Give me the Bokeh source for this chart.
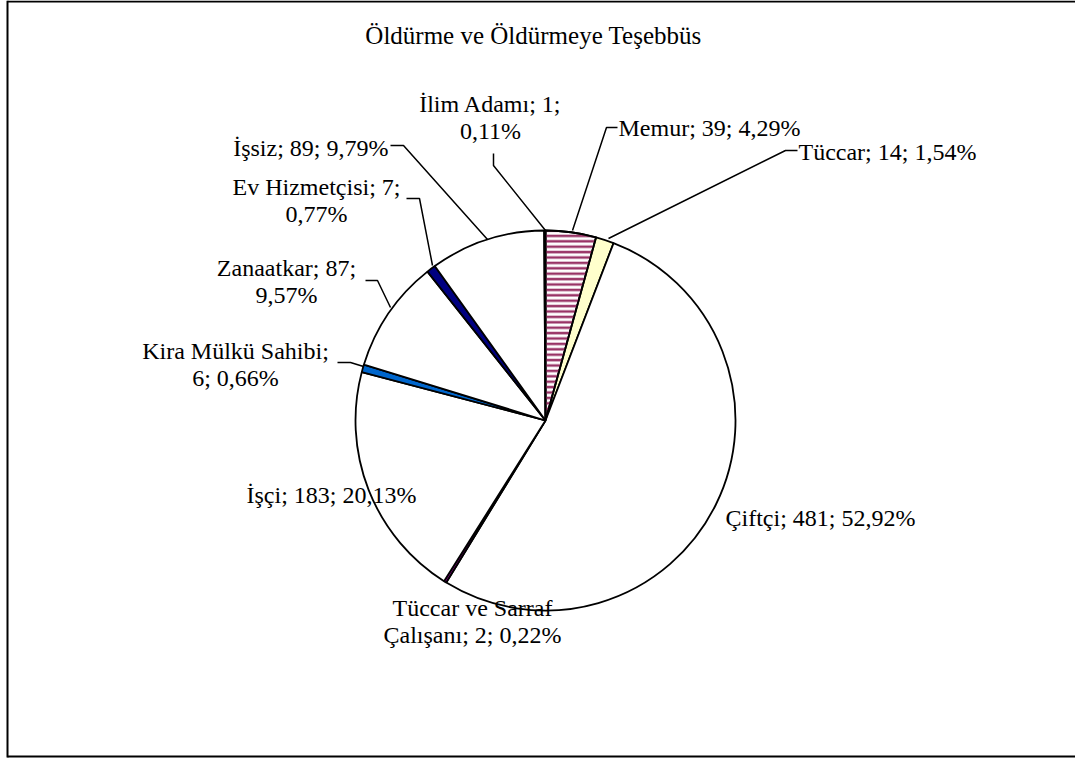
import numpy as np
from bokeh.plotting import figure
from bokeh.models import Range1d, ColumnDataSource
from bokeh.core.properties import value
from bokeh.embed import file_html
from bokeh.resources import INLINE

# ---------------- data ----------------
title_text = "Öldürme ve Öldürmeye Teşebbüs"
categories = ["Memur", "Tüccar", "Çiftçi", "Tüccar ve Sarraf Çalışanı", "İşçi",
              "Kira Mülkü Sahibi", "Zanaatkar", "Ev Hizmetçisi", "İşsiz", "İlim Adamı"]
counts = [39, 14, 481, 2, 183, 6, 87, 7, 89, 1]
slice_colors = ["#ffffff", "#ffffcc", "#ffffff", "#800080", "#ffffff",
                "#0066cc", "#ffffff", "#000080", "#ffffff", "#ffffff"]
hatched_categories = ["Memur"]

# ---------------- layout (screen pixel coordinates) ----------------
W, H = 1075, 758
FONT = "Liberation Serif"
FS = 24
LINE_H = 27
CX, CY, R = 545, 420, 190


def Y(ys):
    return H - ys


label_layout = {
    "Memur": dict(x=618, y=127, align="left", words=None,
                  leader=[(617, 127), (606, 127), (572, 230)]),
    "Tüccar": dict(x=798, y=151, align="left", words=None,
                   leader=[(797, 150), (785, 150), (608, 238)]),
    "Çiftçi": dict(x=725, y=517, align="left", words=None, leader=None),
    "Tüccar ve Sarraf Çalışanı": dict(x=472, y=607, align="center", words=3, leader=None),
    "İşçi": dict(x=331, y=494, align="center", words=None, leader=None),
    "Kira Mülkü Sahibi": dict(x=235, y=350, align="center", words=3,
                              leader=[(337, 362), (350, 362), (363, 366)]),
    "Zanaatkar": dict(x=286, y=267, align="center", words=2,
                      leader=[(365, 280), (377, 280), (390, 307)]),
    "Ev Hizmetçisi": dict(x=316, y=186, align="center", words=3,
                          leader=[(406, 198), (419, 198), (432, 265)]),
    "İşsiz": dict(x=388, y=147, align="right", words=None,
                  leader=[(390, 145), (403, 145), (487, 239)]),
    "İlim Adamı": dict(x=490, y=103, align="center", words=3,
                       leader=[(493, 153), (493, 165), (545, 230)]),
}

# ---------------- derived ----------------
total = float(sum(counts))
fractions = np.array(counts) / total
cum_end = np.cumsum(fractions)
cum_start = cum_end - fractions
start_angle = np.pi / 2 - 2 * np.pi * cum_start
end_angle = np.pi / 2 - 2 * np.pi * cum_end
pct_text = [("%.2f" % (f * 100)).replace(".", ",") + "%" for f in fractions]

src = ColumnDataSource(dict(cat=categories, cnt=counts, color=slice_colors,
                            start=start_angle, end=end_angle))
idx_h = [categories.index(c) for c in hatched_categories]
src_h = ColumnDataSource(dict(start=start_angle[idx_h], end=end_angle[idx_h]))

p = figure(width=W, height=H, x_range=Range1d(0, W), y_range=Range1d(0, H),
           x_axis_type=None, y_axis_type=None, output_backend="svg",
           toolbar_location=None, min_border=0, outline_line_color=None)
p.grid.visible = False
p.background_fill_color = "white"
p.border_fill_color = "white"

# frame border (left, top, bottom)
p.line(x=[7, 7], y=[Y(757), Y(0)], line_color="black", line_width=2)
p.line(x=[7, W], y=[Y(1), Y(1)], line_color="black", line_width=2)
p.line(x=[7, W], y=[Y(756), Y(756)], line_color="black", line_width=2)

# pie
p.wedge(x=CX, y=Y(CY), radius=R, start_angle="start", end_angle="end",
        direction="clock", fill_color="color", line_color="black",
        line_width=1.8, source=src)
p.wedge(x=CX, y=Y(CY), radius=R, start_angle="start", end_angle="end",
        direction="clock", fill_color="white", fill_alpha=0.0,
        hatch_pattern="horizontal_line", hatch_color="#993366",
        hatch_weight=2.5, hatch_scale=5.4, line_color="black",
        line_width=1.8, source=src_h)

# title
p.text(x=[533], y=[Y(35)], text=[title_text], text_font=value(FONT),
       text_font_size="25px", text_align="center", text_baseline="middle",
       text_color="black")

# labels
lines = {"left": dict(x=[], y=[], t=[]), "center": dict(x=[], y=[], t=[]),
         "right": dict(x=[], y=[], t=[])}
lx, ly = [], []
for i, cat in enumerate(categories):
    lay = label_layout[cat]
    full = f"{cat}; {counts[i]}; {pct_text[i]}"
    words = full.split(" ")
    if lay["words"]:
        parts = [" ".join(words[:lay["words"]]), " ".join(words[lay["words"]:])]
    else:
        parts = [full]
    for k, part in enumerate(parts):
        d = lines[lay["align"]]
        d["x"].append(lay["x"])
        d["y"].append(Y(lay["y"] + k * LINE_H))
        d["t"].append(part)
    if lay["leader"]:
        lx.append([pt[0] for pt in lay["leader"]])
        ly.append([Y(pt[1]) for pt in lay["leader"]])

for align, d in lines.items():
    if d["t"]:
        p.text(x=d["x"], y=d["y"], text=d["t"], text_font=value(FONT),
               text_font_size=f"{FS}px", text_align=align,
               text_baseline="middle", text_color="black")

p.multi_line(xs=lx, ys=ly, line_color="black", line_width=1.5)

open("out.html", "w").write(file_html(p, INLINE))
